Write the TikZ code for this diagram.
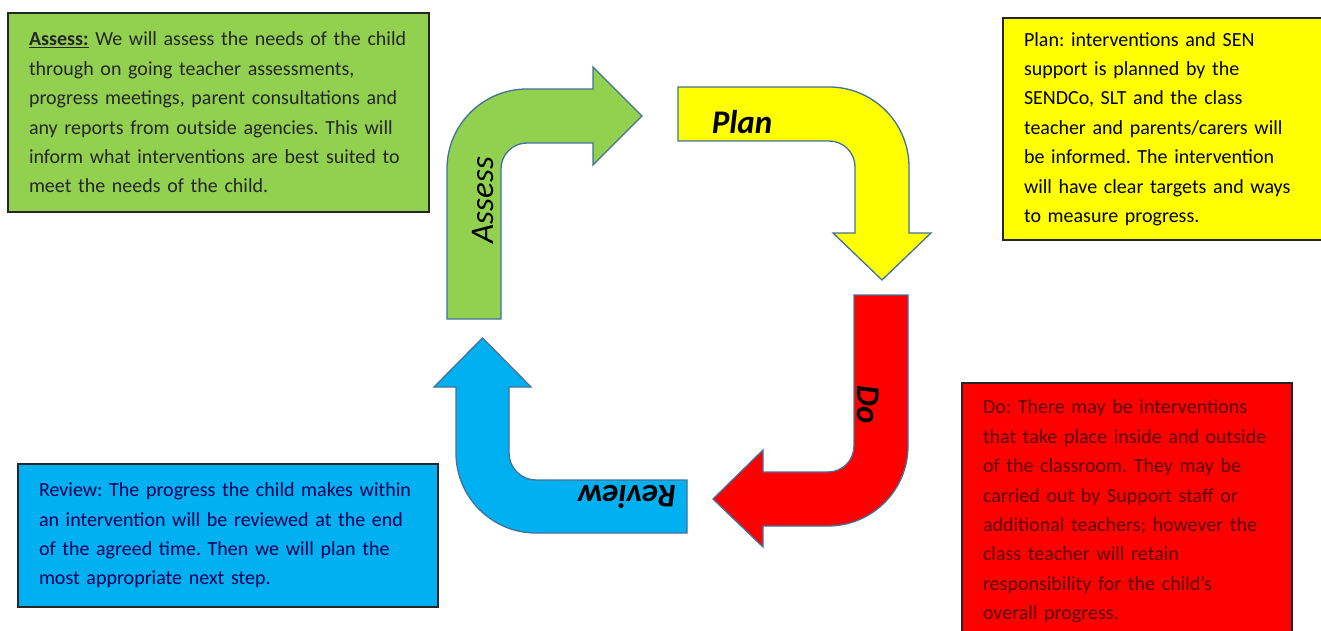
\documentclass[tikz,border=0pt]{standalone}
\usepackage{fontspec}
\setmainfont{Carlito}
\usepackage{tikz}
\usetikzlibrary{positioning}

\definecolor{assessgreen}{HTML}{92D050}
\definecolor{planyellow}{HTML}{FFFF00}
\definecolor{dored}{HTML}{FF0000}
\definecolor{reviewblue}{HTML}{00B0F0}
\definecolor{arrowedge}{HTML}{41719C}

\begin{document}
\frenchspacing
\begin{tikzpicture}[
  x=1pt, y=-1pt,
  bent/.style={draw=arrowedge, line width=1.3pt, line join=miter},
  infobox/.style={rectangle, draw=black!85, line width=1.6pt, align=left, inner xsep=21pt, inner ysep=0pt, font=\fontsize{20}{29.4}\selectfont},
  lbl/.style={font=\fontsize{33}{36}\selectfont\itshape, inner sep=0pt}
]
\useasboundingbox (0,0) rectangle (1321,631);

% Bent arrows of the cycle
\path[bent, fill=assessgreen] (447,319) -- (447,169) .. controls (447,124.8) and (482.8,89) .. (527,89)
  -- (593,89) -- (593,67) -- (642,116) -- (593,165) -- (593,143) -- (527,143)
  .. controls (512.6,143) and (501,154.6) .. (501,169) -- (501,319) -- cycle;
\path[bent, fill=planyellow] (678,87) -- (829,87) .. controls (873.2,87) and (909,122.8) .. (909,167)
  -- (909,233) -- (931,233) -- (882,280) -- (833,233) -- (855,233) -- (855,167)
  .. controls (855,152.6) and (843.4,141) .. (829,141) -- (678,141) -- cycle;
\path[bent, fill=dored] (854,295) -- (908,295) -- (908,446) .. controls (908,490.2) and (872.2,526) .. (828,526)
  -- (763,526) -- (763,547) -- (713,499) -- (763,450) -- (763,472) -- (828,472)
  .. controls (842.4,472) and (854,460.4) .. (854,446) -- cycle;
\path[bent, fill=reviewblue] (687,480) -- (687,533) -- (536,533) .. controls (491.8,533) and (456,497.2) .. (456,453)
  -- (456,387) -- (434,387) -- (482.5,338) -- (531,387) -- (509,387) -- (509,453)
  .. controls (509,467.9) and (521.1,480) .. (536,480) -- cycle;

% Arrow labels
\node[lbl, rotate=90] (assesslbl) at (483,200) {Assess};
\node[lbl, font=\fontsize{33}{36}\selectfont\bfseries\itshape] (planlbl) at (742,122) {Plan};
\node[lbl, font=\fontsize{33}{36}\selectfont\bfseries\itshape, rotate=-90] (dolbl) at (868,405) {Do};
\node[lbl, font=\fontsize{33}{36}\selectfont\bfseries\itshape, rotate=180] (reviewlbl) at (627,497) {Review};

% Text boxes
\node[infobox, fill=assessgreen, text=black!85, text width=379pt, minimum height=199pt] (assessbox) at (218.5,112.5)
  {\underline{\textbf{Assess:}} We will assess the needs of the child\\through on going teacher assessments,\\progress meetings, parent consultations and\\any reports from outside agencies. This will\\inform what interventions are best suited to\\meet the needs of the child.};
\node[infobox, fill=planyellow, text=black, text width=280pt, minimum height=222pt] (planbox) at (1164,129)
  {Plan: interventions and SEN\\support is planned by the\\SENDCo, SLT and the class\\teacher and parents/carers will\\be informed. The intervention\\will have clear targets and ways\\to measure progress.};
\node[infobox, fill=dored, text=red!35!black, text width=288pt, minimum height=257pt] (dobox) at (1127,511.5)
  {Do: There may be interventions\\that take place inside and outside\\of the classroom. They may be\\carried out by Support staff or\\additional teachers; however the\\class teacher will retain\\responsibility for the child’s\\overall progress.};
\node[infobox, fill=reviewblue, text=blue!35!black, text width=378pt, minimum height=143pt] (reviewbox) at (228,535.5)
  {Review: The progress the child makes within\\an intervention will be reviewed at the end\\of the agreed time. Then we will plan the\\most appropriate next step.};
\end{tikzpicture}
\end{document}
